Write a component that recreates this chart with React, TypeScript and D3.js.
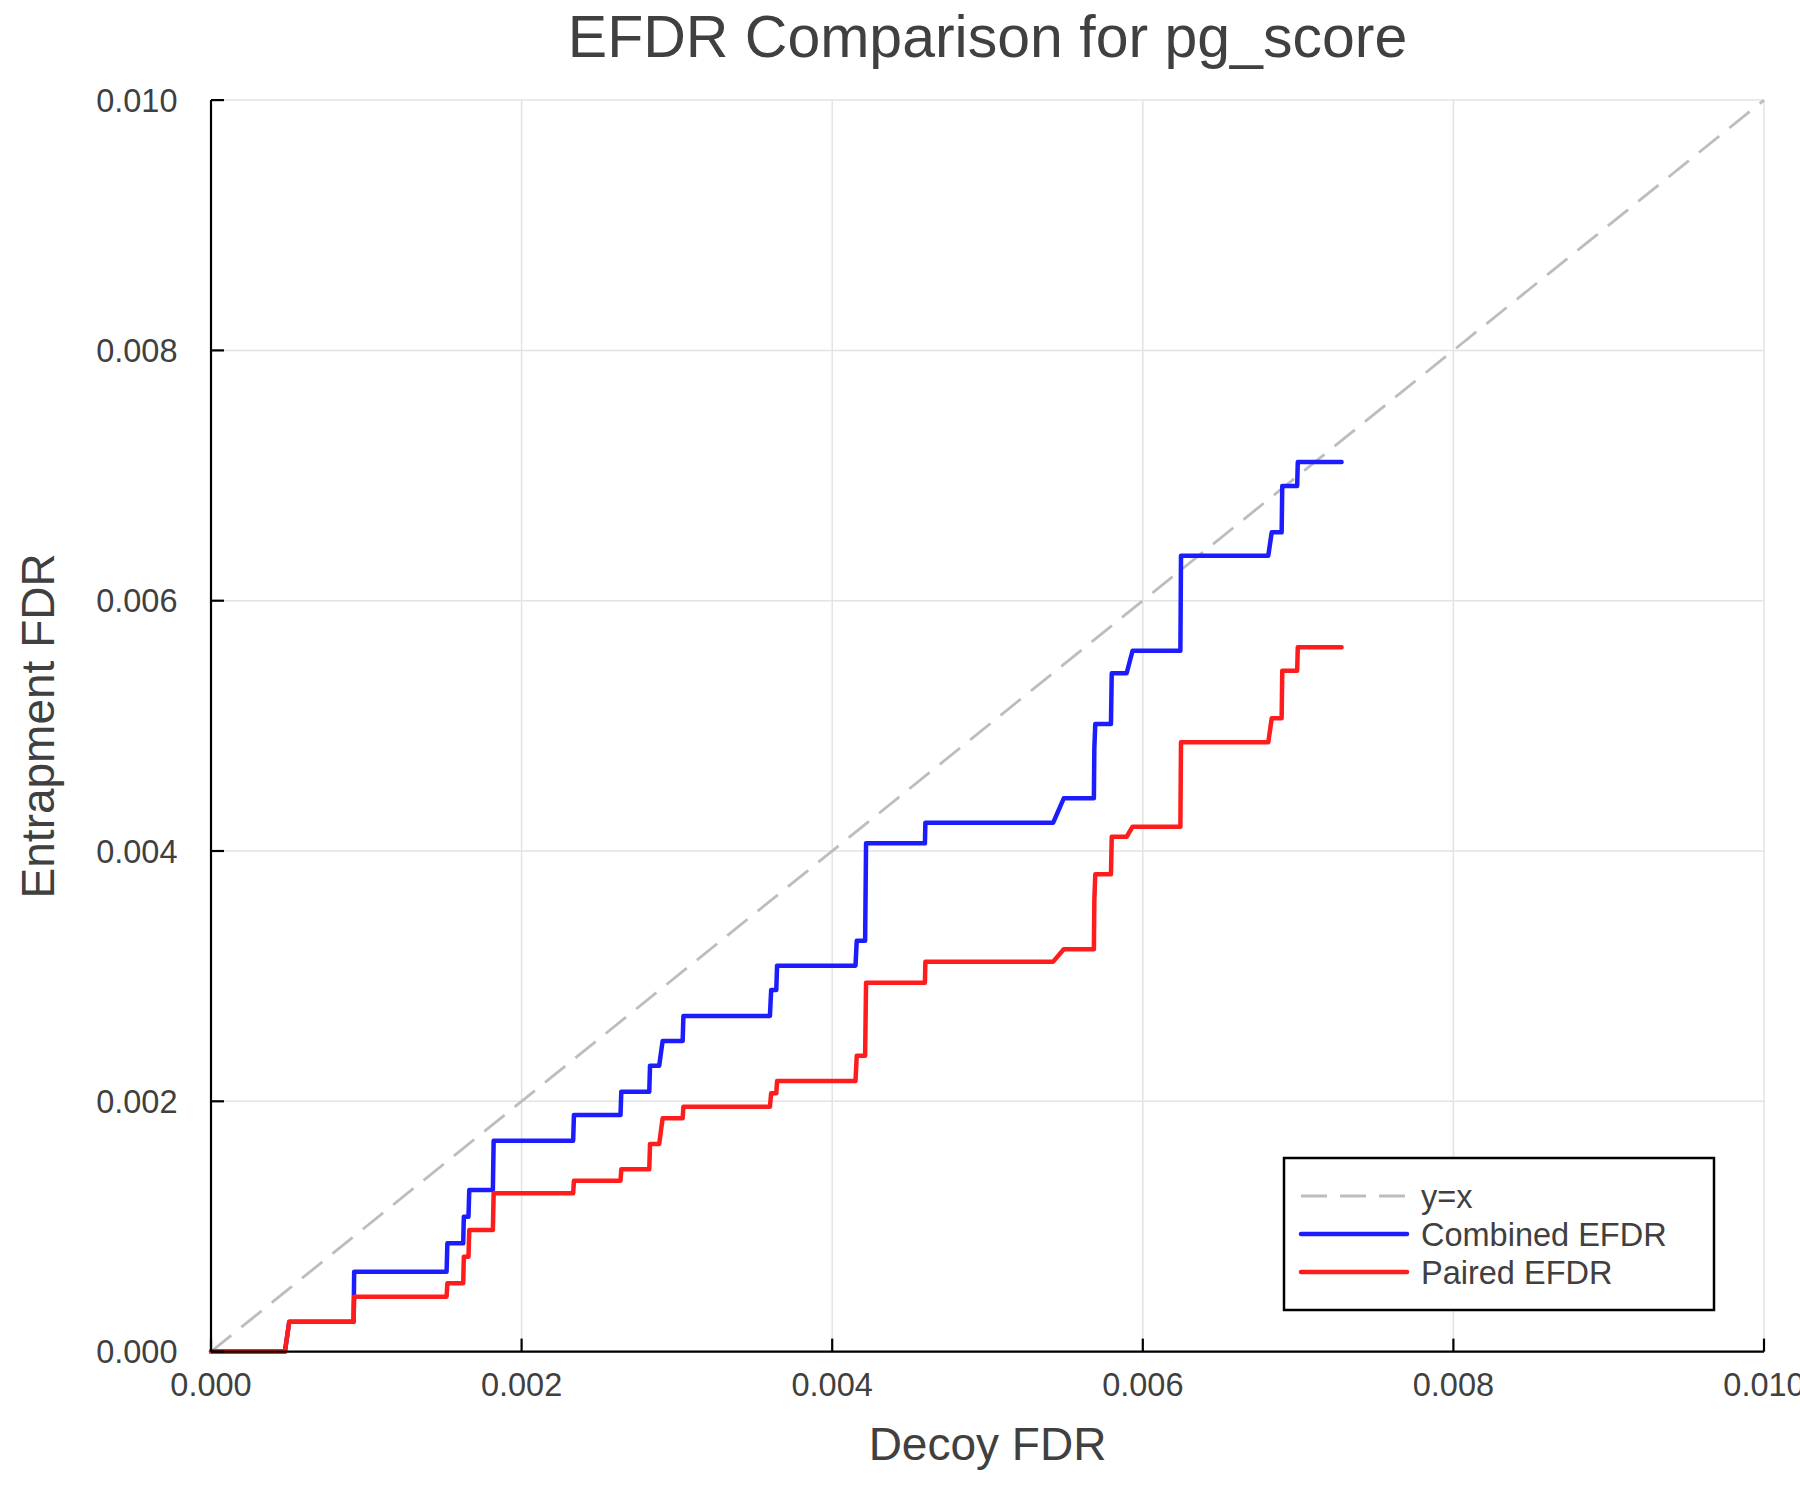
import React from "react";
import * as d3 from "d3";

// Data (FDR values)
const decoyFDR = [
  0, 0.000476, 0.000504, 0.000918, 0.000922, 0.001517, 0.001522, 0.001624, 0.001628, 0.001658,
  0.001663, 0.001815, 0.00182, 0.002332, 0.002337, 0.002637, 0.002642, 0.002822, 0.002827, 0.002886,
  0.002908, 0.003037, 0.003042, 0.003599, 0.003607, 0.00364, 0.003645, 0.00415, 0.004158, 0.004212,
  0.004218, 0.004597, 0.0046, 0.005423, 0.005491, 0.005685, 0.005688, 0.005694, 0.005795, 0.0058,
  0.005896, 0.005934, 0.006242, 0.006246, 0.006808, 0.00683, 0.006894, 0.006898, 0.006994, 0.006998,
  0.00728,
];
const combinedEFDR = [
  0, 0, 0.000239, 0.000239, 0.000638, 0.000638, 0.000865, 0.000865, 0.001078, 0.001078,
  0.001291, 0.001291, 0.001685, 0.001685, 0.001891, 0.001891, 0.002077, 0.002077, 0.002285, 0.002285,
  0.002482, 0.002482, 0.002682, 0.002682, 0.002889, 0.002889, 0.003084, 0.003084, 0.003283, 0.003283,
  0.004061, 0.004061, 0.004226, 0.004226, 0.004421, 0.004421, 0.004821, 0.005015, 0.005015, 0.00542,
  0.00542, 0.0056, 0.0056, 0.00636, 0.00636, 0.006546, 0.006546, 0.006917, 0.006917, 0.007108,
  0.007108,
];
const pairedEFDR = [
  0, 0, 0.000239, 0.000239, 0.000439, 0.000439, 0.000546, 0.000546, 0.000758, 0.000758,
  0.000972, 0.000972, 0.001265, 0.001265, 0.001366, 0.001366, 0.001457, 0.001457, 0.001659, 0.001659,
  0.001864, 0.001864, 0.001957, 0.001957, 0.002064, 0.002064, 0.002162, 0.002162, 0.002364, 0.002364,
  0.002948, 0.002948, 0.003116, 0.003116, 0.003215, 0.003215, 0.003608, 0.003814, 0.003814, 0.004114,
  0.004114, 0.004194, 0.004194, 0.004869, 0.004869, 0.00506, 0.00506, 0.005441, 0.005441, 0.005628,
  0.005628,
];
const tickValues = [0, 0.002, 0.004, 0.006, 0.008, 0.01];
const seriesNames = ["y=x", "Combined EFDR", "Paired EFDR"];
const seriesColors = ["#bdbdbd", "#1c1cff", "#ff1c1c"];
const titleText = "EFDR Comparison for pg_score";
const xLabel = "Decoy FDR";
const yLabel = "Entrapment FDR";

const W = 1800;
const H = 1500;
const FONT = "'Liberation Sans', Arial, Helvetica, sans-serif";
const TEXT = "#404040";

export default function App() {
  const x = d3.scaleLinear().domain([0, 0.01]).range([211, 1764]);
  const y = d3.scaleLinear().domain([0, 0.01]).range([1351.6, 100.1]);
  const fmt = d3.format(".3f");

  const line = d3
    .line<number>()
    .x((_, i) => x(decoyFDR[i]))
    .y((v) => y(v));

  const combinedPath = line(combinedEFDR) || "";
  const pairedPath = line(pairedEFDR) || "";
  const diag = d3.line<number>().x((v) => x(v)).y((v) => y(v))([0, 0.01]) || "";

  const [x0, x1] = x.range();
  const [y0, y1] = y.range();
  const tickLen = 13;

  const legX = 1284;
  const legY = 1158;
  const legW = 430;
  const legH = 152;
  const rowY = [1196, 1234, 1272];

  return (
    <div>
      <style>{`body{margin:0;}`}</style>
      <svg width={W} height={H} style={{ display: "block", background: "#fff" }} fontFamily={FONT}>
        <rect x={0} y={0} width={W} height={H} fill="#fff" />
        {/* grid */}
        <g stroke="#e3e3e3" strokeWidth={1.5}>
          {tickValues.map((t) => (
            <line key={"gx" + t} x1={x(t)} x2={x(t)} y1={y0} y2={y1} />
          ))}
          {tickValues.map((t) => (
            <line key={"gy" + t} x1={x0} x2={x1} y1={y(t)} y2={y(t)} />
          ))}
        </g>
        {/* y = x */}
        <path d={diag} fill="none" stroke={seriesColors[0]} strokeWidth={2.8} strokeDasharray="26 13" />
        {/* series */}
        <path d={combinedPath} fill="none" stroke={seriesColors[1]} strokeWidth={4.5} strokeLinejoin="round" strokeLinecap="round" />
        <path d={pairedPath} fill="none" stroke={seriesColors[2]} strokeWidth={4.5} strokeLinejoin="round" strokeLinecap="round" />
        {/* axes */}
        <g stroke="#000" strokeWidth={2.2}>
          <line x1={x0} x2={x1} y1={y0} y2={y0} />
          <line x1={x0} x2={x0} y1={y0} y2={y1} />
          {tickValues.map((t) => (
            <line key={"tx" + t} x1={x(t)} x2={x(t)} y1={y0} y2={y0 - tickLen} />
          ))}
          {tickValues.map((t) => (
            <line key={"ty" + t} x1={x0} x2={x0 + tickLen} y1={y(t)} y2={y(t)} />
          ))}
        </g>
        {/* tick labels */}
        <g fill={TEXT} fontSize={32.5}>
          {tickValues.map((t) => (
            <text key={"lx" + t} x={x(t)} y={1396} textAnchor="middle">
              {fmt(t)}
            </text>
          ))}
          {tickValues.map((t) => (
            <text key={"ly" + t} x={177.5} y={y(t) + 11.7} textAnchor="end">
              {fmt(t)}
            </text>
          ))}
        </g>
        {/* title & labels */}
        <text x={(x0 + x1) / 2} y={57} textAnchor="middle" fontSize={59} fill={TEXT}>
          {titleText}
        </text>
        <text x={(x0 + x1) / 2} y={1460} textAnchor="middle" fontSize={46} fill={TEXT}>
          {xLabel}
        </text>
        <text
          transform={`translate(54, ${(y0 + y1) / 2}) rotate(-90)`}
          textAnchor="middle"
          fontSize={46}
          fill={TEXT}
        >
          {yLabel}
        </text>
        {/* legend */}
        <rect x={legX} y={legY} width={legW} height={legH} fill="#fff" stroke="#000" strokeWidth={2.5} />
        {seriesNames.map((name, i) => (
          <g key={name}>
            <line
              x1={1301}
              x2={1407}
              y1={rowY[i]}
              y2={rowY[i]}
              stroke={seriesColors[i]}
              strokeWidth={i === 0 ? 2.8 : 4.5}
              strokeDasharray={i === 0 ? "26 13" : undefined}
              strokeLinecap={i === 0 ? "butt" : "round"}
            />
            <text x={1421} y={rowY[i] + 12} fontSize={32.5} fill={TEXT}>
              {name}
            </text>
          </g>
        ))}
      </svg>
    </div>
  );
}
